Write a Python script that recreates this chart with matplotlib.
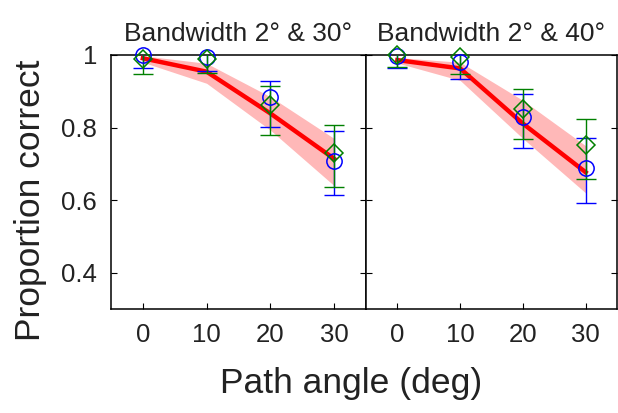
import numpy as np
import matplotlib.pyplot as plt

plt.rcParams["font.family"] = ["Liberation Sans", "DejaVu Sans"]

angles = [0, 10, 20, 30]
titles = ["Bandwidth 2\u00b0 & 30\u00b0", "Bandwidth 2\u00b0 & 40\u00b0"]

# model fit (red line) and its band
fit = [[0.991, 0.954, 0.839, 0.714],
       [0.986, 0.963, 0.811, 0.677]]
band_lo = [[0.980, 0.922, 0.793, 0.640],
           [0.978, 0.930, 0.770, 0.620]]
band_hi = [[0.998, 0.977, 0.885, 0.770],
           [0.993, 0.980, 0.875, 0.750]]

# observer 1 (blue circles)
blue = [[1.000, 0.995, 0.883, 0.709],
        [0.997, 0.980, 0.829, 0.689]]
blue_lo = [[0.963, 0.955, 0.802, 0.615],
           [0.963, 0.933, 0.745, 0.593]]
blue_hi = [[1.030, 1.030, 0.929, 0.790],
           [1.030, 1.020, 0.892, 0.772]]

# observer 2 (green diamonds)
green = [[0.990, 0.990, 0.862, 0.730],
         [1.000, 0.995, 0.852, 0.751]]
green_lo = [[0.949, 0.950, 0.779, 0.636],
            [0.966, 0.949, 0.768, 0.657]]
green_hi = [[1.030, 1.030, 0.915, 0.806],
            [1.030, 1.010, 0.907, 0.824]]

fig = plt.figure(figsize=(6.18, 4.13), dpi=100)
W, H = 618, 413
panels = [(111, 366), (366, 617)]
top, bottom = 55, 309
green_c = (0, 0.5, 0)
txt_c = "#222222"

for i, (x0, x1) in enumerate(panels):
    ax = fig.add_axes([x0 / W, 1 - bottom / H, (x1 - x0) / W, (bottom - top) / H])
    ax.fill_between(angles, band_lo[i], band_hi[i], color=(1, 0.72, 0.72), lw=0)
    ax.plot(angles, fit[i], color="red", lw=3.2, zorder=3)

    b = np.array(blue[i])
    ax.errorbar(angles, b, yerr=[b - np.array(blue_lo[i]), np.array(blue_hi[i]) - b],
                fmt="none", ecolor="blue", elinewidth=1, capsize=7, capthick=1, zorder=4)
    g = np.array(green[i])
    ax.errorbar(angles, g, yerr=[g - np.array(green_lo[i]), np.array(green_hi[i]) - g],
                fmt="none", ecolor=green_c, elinewidth=1, capsize=7, capthick=1, zorder=5)
    ax.plot(angles, b, "o", mfc="none", mec="blue", ms=11, mew=1.1, clip_on=False, zorder=6)
    ax.plot(angles, g, "D", mfc="none", mec=green_c, ms=9.5, mew=1.1, clip_on=False, zorder=7)

    ax.set_xlim(-5, 35)
    ax.set_ylim(0.3, 1.0)
    ax.set_xticks(angles)
    ax.set_yticks([0.4, 0.6, 0.8, 1.0])
    ax.set_yticklabels(["0.4", "0.6", "0.8", "1"])
    ax.tick_params(direction="in", length=4, width=0.8, labelsize=18.5,
                   colors="black", labelcolor=txt_c, right=True, pad=10)
    if i == 1:
        ax.tick_params(labelleft=False)
    for s in ax.spines.values():
        s.set_linewidth(1.1)
    ax.set_title(titles[i], fontsize=19, color=txt_c, pad=10)

fig.text(31 / W, 1 - 200 / H, "Proportion correct", rotation=90, fontsize=25.5,
         color=txt_c, ha="center", va="center")
fig.text(351 / W, 1 - 384 / H, "Path angle (deg)", fontsize=25.5,
         color=txt_c, ha="center", va="center")

fig.savefig("out.png", dpi=100)
